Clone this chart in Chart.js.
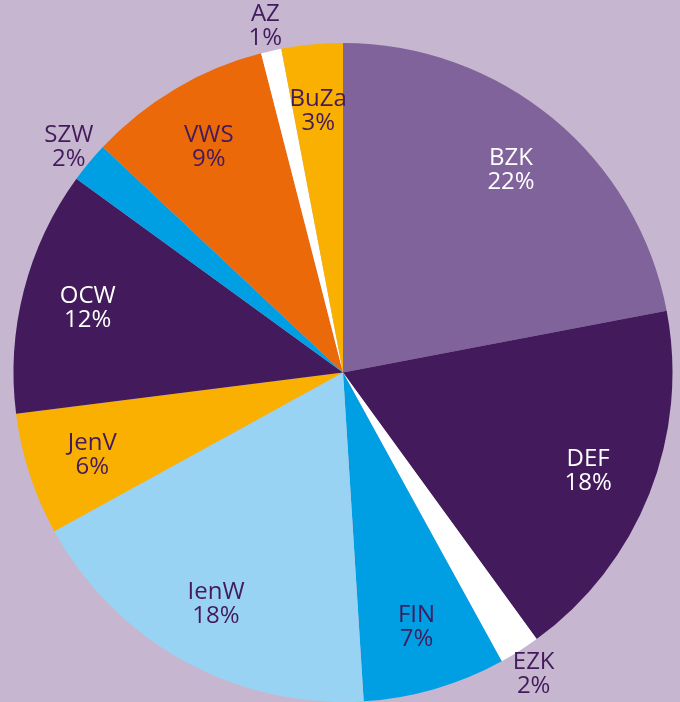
<!DOCTYPE html>
<html>
<head>
<meta charset="utf-8">
<script src="https://cdn.jsdelivr.net/npm/chart.js@4.4.1/dist/chart.umd.min.js"></script>
<style>
  html, body { margin: 0; padding: 0; background: #c6b6d0; }
  #pie { display: block; }
</style>
</head>
<body>
<canvas id="pie" width="680" height="702"></canvas>
<script>
document.addEventListener('DOMContentLoaded', function () {
    "use strict";

    var ministries = ["BZK", "DEF", "EZK", "FIN", "IenW", "JenV", "OCW", "SZW", "VWS", "AZ", "BuZa"];
    var shares = [22, 18, 2, 7, 18, 6, 12, 2, 9, 1, 3];
    var sliceColors = [
        "#80639a", "#431a5b", "#ffffff", "#009fe3", "#99d3f4",
        "#f9b000", "#431a5b", "#009fe3", "#eb6909", "#ffffff", "#f9b000"
    ];
    var textColors = [
        "#ffffff", "#ffffff", "#431a5b", "#431a5b", "#431a5b",
        "#431a5b", "#ffffff", "#431a5b", "#431a5b", "#431a5b", "#431a5b"
    ];

    // labels: inside at 80% of radius, small slices outside the pie
    var sliceLabels = {
        id: 'sliceLabels',
        afterDatasetsDraw: function (chart) {
            var c = chart.ctx;
            var arcs = chart.getDatasetMeta(0).data;
            c.save();
            c.font = '24px "Open Sans", "Noto Sans", sans-serif';
            c.textAlign = 'center';
            c.textBaseline = 'alphabetic';
            arcs.forEach(function (arc, i) {
                var p = arc.getProps(['x', 'y', 'startAngle', 'endAngle', 'outerRadius'], true);
                var mid = (p.startAngle + p.endAngle) / 2;
                var r = shares[i] < 3 ? p.outerRadius * 1.08 : p.outerRadius * 0.8;
                var x = p.x + Math.cos(mid) * r;
                var y = p.y + Math.sin(mid) * r;
                c.fillStyle = textColors[i];
                c.fillText(ministries[i], x, y - 4);
                c.fillText(shares[i] + '%', x, y + 20);
            });
            c.restore();
        }
    };

    var ctx = document.getElementById("pie");
    var myChart = new Chart(ctx, {
        type: 'pie',
        data: {
            labels: ministries,
            datasets: [{
                data: shares,
                backgroundColor: sliceColors,
                borderWidth: 0
            }]
        },
        options: {
            responsive: false,
            animation: false,
            layout: {
                padding: { top: 43, left: 13, right: 7, bottom: 0 }
            },
            plugins: {
                legend: { display: false },
                tooltip: { enabled: false }
            }
        },
        plugins: [sliceLabels]
    });
});
</script>
</body>
</html>
